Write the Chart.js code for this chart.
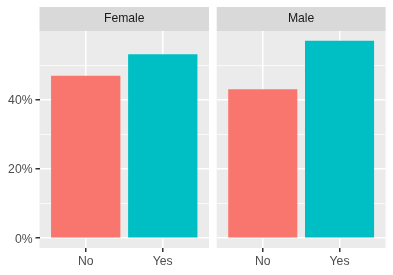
<!DOCTYPE html>
<html>
<head>
<meta charset="utf-8">
<script src="https://cdn.jsdelivr.net/npm/chart.js@4.4.1/dist/chart.umd.min.js"></script>
<style>
    html, body { margin: 0; padding: 0; background: #fff; }
    #wrap { position: relative; width: 393px; height: 275px; }
    #wrap canvas { position: absolute; left: 0; top: 0; }
</style>
</head>
<body>
<div id="wrap">
    <canvas id="female" width="393" height="275"></canvas>
    <canvas id="male" width="393" height="275"></canvas>
</div>
<script>
// data
var categories = ['No', 'Yes'];
var facets = ['Female', 'Male'];
var femaleValues = [46.9, 53.1];
var maleValues = [43.0, 57.0];
var yTicks = [0, 10, 20, 30, 40, 50];
var barColors = ['#F8766D', '#00BFC4'];

document.addEventListener("DOMContentLoaded", function() {
    'use strict';

    var font = { family: '"Liberation Sans", Helvetica, Arial, sans-serif', size: 12.2 };
    var yTop = Math.max.apply(null, femaleValues.concat(maleValues)) * 1.05;
    var yBottom = -0.05 * Math.max.apply(null, femaleValues.concat(maleValues));

    var panelPlugin = {
        id: 'panel',
        beforeDraw: function(chart, args, opts) {
            var a = chart.chartArea, ctx = chart.ctx;
            ctx.save();
            ctx.fillStyle = '#EBEBEB';
            ctx.fillRect(a.left, a.top, a.right - a.left, a.bottom - a.top);
            ctx.fillStyle = '#D9D9D9';
            ctx.fillRect(a.left, a.top - 24, a.right - a.left, 24);
            ctx.fillStyle = '#1A1A1A';
            ctx.font = font.size + 'px ' + font.family;
            ctx.textAlign = 'center';
            ctx.textBaseline = 'middle';
            ctx.fillText(opts.label, (a.left + a.right) / 2, a.top - 12);
            ctx.restore();
        }
    };

    function draw_panel(id, label, values, withAxis, padding) {
        var $canvas = document.getElementById(id);
        new Chart($canvas.getContext('2d'), {
            type: 'bar',
            data: {
                datasets: [{
                    data: values.map(function(v, i) { return { x: i + 1, y: v }; }),
                    backgroundColor: barColors,
                    borderWidth: 0,
                    barPercentage: 0.9,
                    categoryPercentage: 1
                }]
            },
            plugins: [panelPlugin],
            options: {
                responsive: false,
                animation: false,
                devicePixelRatio: 1,
                layout: { padding: padding },
                plugins: {
                    legend: { display: false },
                    tooltip: { enabled: false },
                    panel: { label: label }
                },
                scales: {
                    x: {
                        type: 'linear',
                        min: 0.4,
                        max: 2.6,
                        offset: false,
                        afterBuildTicks: function(scale) {
                            scale.ticks = categories.map(function(c, i) { return { value: i + 1 }; });
                        },
                        afterFit: function(scale) { scale.height = 27; },
                        border: { display: false },
                        grid: {
                            offset: false,
                            color: '#FFFFFF',
                            lineWidth: 1.5,
                            tickLength: 4,
                            tickWidth: 1.5,
                            tickColor: '#333333'
                        },
                        ticks: {
                            font: font,
                            color: '#4D4D4D',
                            padding: 2,
                            maxRotation: 0,
                            callback: function(v) { return categories[v - 1]; }
                        }
                    },
                    y: {
                        min: yBottom,
                        max: yTop,
                        afterBuildTicks: function(scale) {
                            scale.ticks = yTicks.map(function(v) { return { value: v }; });
                        },
                        afterFit: function(scale) { scale.width = withAxis ? 39.5 : 0; },
                        border: { display: false },
                        grid: {
                            color: '#FFFFFF',
                            drawTicks: withAxis,
                            tickLength: 4,
                            tickWidth: 1.5,
                            tickColor: function(ctx) {
                                return ctx.tick && ctx.tick.value % 20 === 0 ? '#333333' : 'rgba(0,0,0,0)';
                            },
                            lineWidth: function(ctx) {
                                return ctx.tick && ctx.tick.value % 20 === 0 ? 1.5 : 0.75;
                            }
                        },
                        ticks: {
                            display: withAxis,
                            font: font,
                            color: '#4D4D4D',
                            padding: 3,
                            labelOffset: 1,
                            callback: function(v) { return v % 20 === 0 ? v + '%' : ''; }
                        }
                    }
                }
            }
        });
    }

    draw_panel('female', facets[0], femaleValues, true, { top: 31, right: 184, bottom: 0, left: 0 });
    draw_panel('male', facets[1], maleValues, false, { top: 31, right: 7.4, bottom: 0, left: 216.7 });
});
</script>
</body>
</html>
